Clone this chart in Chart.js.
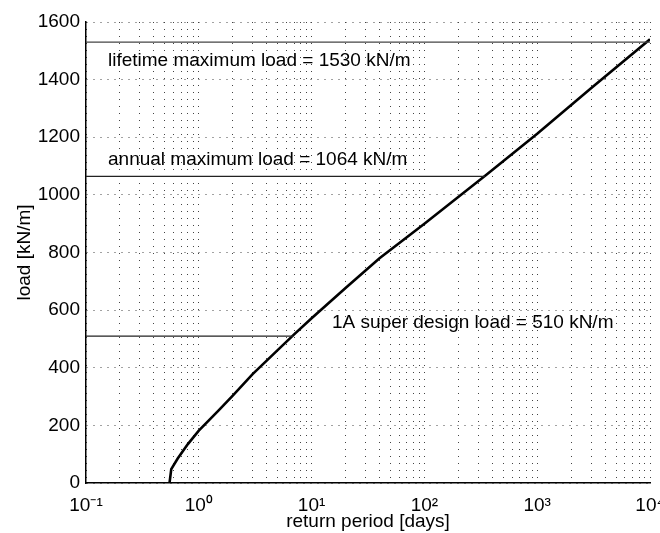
<!DOCTYPE html>
<html>
<head>
<meta charset="utf-8">
<script src="https://cdn.jsdelivr.net/npm/chart.js@4/dist/chart.umd.min.js"></script>
<style>
  html, body { margin: 0; padding: 0; background: #fff; }
  #wrap { width: 660px; height: 533px; position: relative; }
</style>
</head>
<body>
<div id="wrap"><canvas id="c" width="660" height="533"></canvas></div>
<script>
// ---- data ----
const returnPeriod = [0.55, 0.57, 0.65, 0.8, 1.0, 1.5, 2, 3, 5, 7, 10, 20, 40, 100, 350, 1000, 3000, 10000];
const loadValues   = [0, 48, 85, 135, 182, 252, 303, 378, 461, 516, 572, 677, 780, 900, 1068, 1212, 1370, 1540];

const lifetimeLoad = 1530;
const annualLoad = 1064;
const designLoad = 510;
const annualReturn = 344;   // where the curve reaches the annual load
const designReturn = 6.86;  // where the curve reaches the 1A design load

const lifetimeLabel = 'lifetime maximum load = 1530 kN/m';
const annualLabel = 'annual maximum load = 1064 kN/m';
const designLabel = '1A super design load = 510 kN/m';

const xTickExponents = [-1, 0, 1, 2, 3, 4];
const yTickValues = [0, 200, 400, 600, 800, 1000, 1200, 1400, 1600];

const xTitle = 'return period [days]';
const yTitle = 'load [kN/m]';

// ---- chart ----
const FONT = "'Liberation Sans', Arial, Helvetica, sans-serif";
const sup = {'-': '\u207B', '0': '\u2070', '1': '\u00B9', '2': '\u00B2', '3': '\u00B3', '4': '\u2074', '5': '\u2075', '6': '\u2076', '7': '\u2077', '8': '\u2078', '9': '\u2079'};
function supText(n) { return String(n).split('').map(c => sup[c]).join(''); }

const xMin = Math.pow(10, xTickExponents[0]);
const xMax = Math.pow(10, xTickExponents[xTickExponents.length - 1]);

const curve = returnPeriod.map((x, i) => ({x, y: loadValues[i]}));

const annotationPlugin = {
  id: 'annots',
  afterDatasetsDraw(chart) {
    const {ctx, scales: {x, y}, chartArea} = chart;
    ctx.save();
    ctx.fillStyle = '#000';
    ctx.font = '19px ' + FONT;
    ctx.textAlign = 'left';
    ctx.textBaseline = 'alphabetic';
    ctx.fillText(lifetimeLabel, chartArea.left + 22, y.getPixelForValue(lifetimeLoad) + 24);
    ctx.fillText(annualLabel, chartArea.left + 22, y.getPixelForValue(annualLoad) - 11);
    ctx.fillText(designLabel, 332, y.getPixelForValue(designLoad) - 8);
    ctx.restore();
  }
};

const gridStyle = { color: '#444', lineWidth: 1, drawTicks: false };

new Chart(document.getElementById('c'), {
  type: 'line',
  data: {
    datasets: [
      {
        data: [{x: xMin, y: lifetimeLoad}, {x: xMax, y: lifetimeLoad}],
        borderColor: '#444', borderWidth: 1.2, pointRadius: 0
      },
      {
        data: [{x: xMin, y: annualLoad}, {x: annualReturn, y: annualLoad}],
        borderColor: '#222', borderWidth: 1.2, pointRadius: 0
      },
      {
        data: [{x: xMin, y: designLoad}, {x: designReturn, y: designLoad}],
        borderColor: '#222', borderWidth: 1.2, pointRadius: 0
      },
      {
        data: curve,
        borderColor: '#000', borderWidth: 2.6, pointRadius: 0, tension: 0
      }
    ]
  },
  options: {
    responsive: false,
    animation: false,
    layout: { padding: { left: 0, right: 10, top: 22, bottom: 0 } },
    plugins: { legend: { display: false }, tooltip: { enabled: false } },
    scales: {
      x: {
        type: 'logarithmic',
        min: xMin, max: xMax,
        afterBuildTicks(scale) {
          const t = [];
          for (let e = xTickExponents[0]; e < xTickExponents[xTickExponents.length - 1]; e++) {
            for (let m = 1; m <= 9; m++) t.push({value: m * Math.pow(10, e)});
          }
          t.push({value: xMax});
          scale.ticks = t;
        },
        afterFit(scale) { scale.height = 50; scale.paddingLeft = 0; scale.paddingRight = 0; },
        ticks: {
          autoSkip: false, maxRotation: 0, minRotation: 0,
          padding: 11, color: '#000',
          font: { family: FONT, size: 19 },
          callback(v) {
            const e = Math.log10(v);
            if (Math.abs(e - Math.round(e)) < 1e-9) return '10' + supText(Math.round(e));
            return '';
          }
        },
        grid: gridStyle,
        border: { display: true, color: '#000', width: 1.5, dash: [1, 6] },
        title: { display: true, text: xTitle, color: '#000', font: { family: FONT, size: 19 }, padding: { top: 0, bottom: 0 } }
      },
      y: {
        type: 'linear',
        min: yTickValues[0], max: yTickValues[yTickValues.length - 1],
        afterBuildTicks(scale) { scale.ticks = yTickValues.map(v => ({value: v})); },
        afterFit(scale) { scale.width = 86; scale.paddingTop = 0; scale.paddingBottom = 0; },
        ticks: {
          padding: 6, color: '#000', font: { family: FONT, size: 19 },
          callback(v) { return String(v); }
        },
        grid: gridStyle,
        border: { display: true, color: '#000', width: 1.5, dash: [1, 6] },
        title: { display: true, text: yTitle, color: '#000', font: { family: FONT, size: 19 }, padding: { top: 13, bottom: 0 } }
      }
    }
  },
  plugins: [annotationPlugin]
});
</script>
</body>
</html>
